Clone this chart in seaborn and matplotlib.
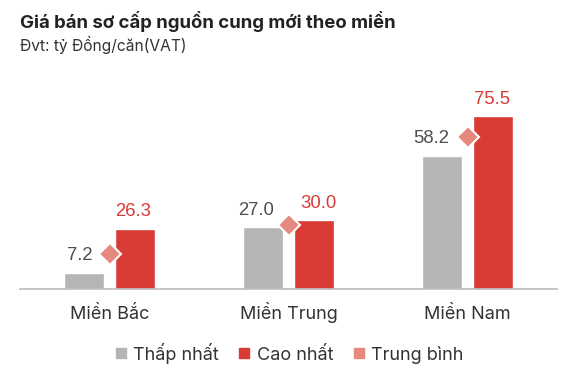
import matplotlib
matplotlib.use("Agg")
import matplotlib.pyplot as plt
import seaborn as sns
import pandas as pd
from matplotlib.lines import Line2D

# ---- data ----
regions = ["Miền Bắc", "Miền Trung", "Miền Nam"]
low = [7.2, 27.0, 58.2]
high = [26.3, 30.0, 75.5]
avg = [15.3, 28.0, 66.5]
series_names = ["Thấp nhất", "Cao nhất", "Trung bình"]
title = "Giá bán sơ cấp nguồn cung mới theo miền"
subtitle = "Đvt: tỷ Đồng/căn(VAT)"

# ---- style ----
gray = "#B5B5B5"
red = "#D93B35"
pink = "#E5897E"
palette = {series_names[0]: gray, series_names[1]: red}

df = pd.DataFrame({
    "region": regions * 2,
    "series": [series_names[0]] * len(regions) + [series_names[1]] * len(regions),
    "value": low + high,
})

sns.set_theme(style="white")
plt.rcParams["font.family"] = ["Inter", "DejaVu Sans"]

W, H = 584, 370
fig = plt.figure(figsize=(W / 100, H / 100), dpi=100)
ax = fig.add_axes([20 / W, 81 / H, 537 / W, 206 / H])

sns.barplot(data=df, x="region", y="value", hue="series", order=regions,
            hue_order=series_names[:2], palette=palette, width=0.57, gap=0.22,
            saturation=1, ax=ax, legend=False)
sns.pointplot(x=regions, y=avg, order=regions, markers="D", linestyles="none",
              color=pink, errorbar=None, ax=ax, markersize=11.5,
              markeredgecolor="white", markeredgewidth=1.5, zorder=5)

ax.set_xlim(-0.5, len(regions) - 0.5)
ax.set_ylim(0, 90)
ax.set_xlabel("")
ax.set_ylabel("")
ax.set_yticks([])
for s in ["left", "right", "top"]:
    ax.spines[s].set_visible(False)
ax.spines["bottom"].set_color("#BBBBBB")
ax.spines["bottom"].set_linewidth(1.2)

ax.set_xticks(range(len(regions)))
ax.set_xticklabels(regions, fontsize=13, color="#333333", va="baseline")
ax.set_xticks([i - 0.5 for i in range(len(regions) + 1)], minor=True)
ax.tick_params(axis="x", which="major", length=0, pad=21.6)
ax.tick_params(axis="x", which="minor", length=4, width=1, color="#BBBBBB", direction="out")

# value labels
label_font = ["Liberation Sans", "DejaVu Sans"]
offsets = [[-3, -5, -8], [-1, 3, -1]]
label_colors = ["#4D4D4D", red]
for ci, cont in enumerate(ax.containers[:2]):
    for bi, rect in enumerate(cont.patches):
        val = rect.get_height()
        ax.annotate(f"{val:.1f}", (rect.get_x() + rect.get_width() / 2, val),
                    xytext=(offsets[ci][bi], 6), textcoords="offset points",
                    ha="center", va="bottom", fontsize=13.3,
                    color=label_colors[ci], family=label_font)

# legend
handles = [Line2D([], [], marker="s", linestyle="", color=c, markersize=7)
           for c in [gray, red, pink]]
fig.legend(handles, series_names, loc="center", bbox_to_anchor=(288.5 / W, 1 - 353 / H),
           ncol=3, frameon=False, fontsize=13, handletextpad=0.3, columnspacing=1.0,
           labelcolor="#333333", handlelength=0.8)

fig.text(20 / W, 1 - 27.5 / H, title, fontsize=13.4, fontweight="bold",
         color="#222222", va="baseline", ha="left")
fig.text(20 / W, 1 - 50.5 / H, subtitle, fontsize=11.2, color="#333333",
         va="baseline", ha="left")

fig.savefig("out.png", dpi=100)
